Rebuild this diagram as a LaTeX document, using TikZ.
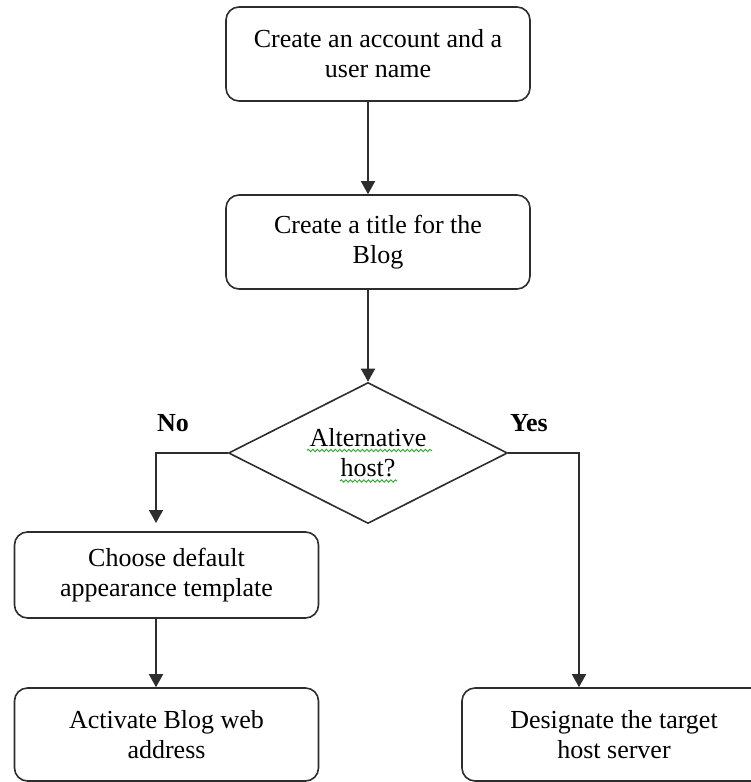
\documentclass[tikz,border=0pt]{standalone}
\usepackage{fontspec}
\setmainfont{Liberation Serif}
\usetikzlibrary{shapes.geometric,arrows.meta,decorations.pathmorphing}
\definecolor{linec}{RGB}{45,45,45}
\definecolor{squig}{RGB}{40,170,40}
\begin{document}
\begin{tikzpicture}[x=1pt,y=-1pt,
  every node/.style={font=\fontsize{26}{30}\selectfont},
  stepbox/.style={draw=linec,line width=1.6pt,rounded corners=13pt,minimum width=304pt,align=center,inner sep=0pt},
  decide/.style={draw=linec,line width=1.6pt,shape=diamond,minimum width=279pt,minimum height=141pt,aspect=2,align=center,inner sep=0pt},
  conn/.style={draw=linec,line width=1.6pt,-{Triangle[width=14pt,length=13pt]}},
  lbl/.style={font=\fontsize{26}{30}\selectfont\bfseries},
  wavy/.style={draw=squig,line width=0.9pt,decorate,decoration={snake,amplitude=1.2pt,segment length=4.5pt}}]
\useasboundingbox (0,0) rectangle (751,782);
\node[stepbox,minimum height=94pt] (b1) at (378,54) {Create an account and a\\user name};
\node[stepbox,minimum height=94pt] (b2) at (378,242) {Create a title for the\\Blog};
\node[decide] (d) at (368,453) {Alternative\\host?};
\node[stepbox,minimum height=86pt] (b3) at (166.5,575) {Choose default\\appearance template};
\node[stepbox,minimum height=93pt] (b4) at (166.5,734.5) {Activate Blog web\\address};
\node[stepbox,minimum height=93pt] (b5) at (614,734.5) {Designate the target\\host server};
\node[lbl] (no) at (173,423) {No};
\node[lbl] (yes) at (529,423) {Yes};
\coordinate (lx) at (156,0);
\coordinate (rx) at (579,0);
\coordinate (l1) at (156,523);
\draw[conn] (b1.south -| d.north) -- (b2.north -| d.north);
\draw[conn] (b2.south -| d.north) -- (d.north);
\draw[conn] (d.west) -| (l1);
\draw[conn] (b3.south -| lx) -- (b4.north -| lx);
\draw[conn] (d.east) -| (b5.north -| rx);
\draw[wavy] (307,450.5) -- (432,450.5);
\draw[wavy] (340,481) -- (397,481);
\end{tikzpicture}
\end{document}
